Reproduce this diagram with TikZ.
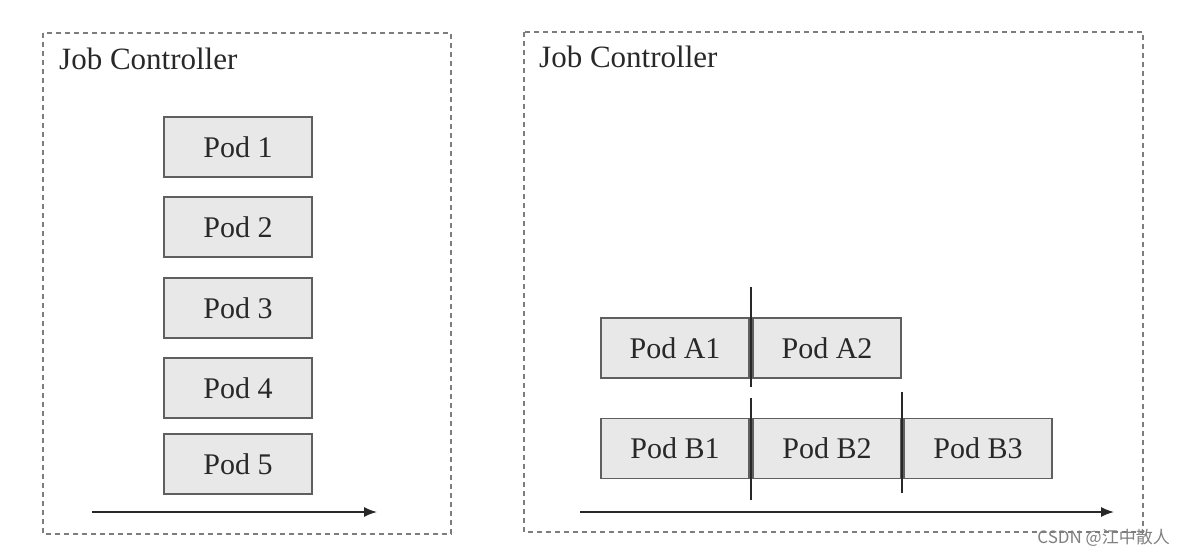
\documentclass[tikz,border=0pt]{standalone}
\usepackage{fontspec}
\setmainfont{Liberation Serif}
\newfontfamily\cjk{Noto Sans CJK SC}
\usetikzlibrary{positioning, arrows.meta, calc}
\definecolor{podfill}{RGB}{232,232,232}
\definecolor{podline}{RGB}{95,95,95}
\definecolor{dashgray}{RGB}{125,125,125}
\definecolor{inkgray}{RGB}{40,40,40}

\tikzset{
  pod/.style={draw=podline, fill=podfill, line width=1.2pt, minimum width=148pt,
    minimum height=60pt, inner sep=0pt, text=inkgray, font=\fontsize{30}{36}\selectfont},
  ctrlbox/.style={draw=dashgray, line width=1.2pt, dash pattern=on 5pt off 4pt},
  ctrltitle/.style={anchor=base west, inner sep=0pt, text=inkgray, font=\fontsize{31}{37}\selectfont},
  timeline/.style={draw=inkgray, line width=1.5pt, -{Latex[length=13pt,width=10pt]}},
  divider/.style={draw=inkgray, line width=1.3pt}
}

\begin{document}
\begin{tikzpicture}[x=1pt, y=-1pt]
  \useasboundingbox (0,0) rectangle (1186,554);
  % left: one pod after another
  \draw[ctrlbox] (43,33) rectangle (451,534);
  \node[ctrltitle] (ttl1) at (59,69) {Job Controller};
  \foreach \i/\y in {1/147, 2/227, 3/308, 4/388, 5/464}
    \node[pod] (p\i) at (238,\y) {Pod \i};
  \coordinate (t1s) at (92,512);
  \coordinate (t1e) at (377,512);
  \draw[timeline] (t1s) -- (t1e);

  % right: pods in parallel groups
  \draw[ctrlbox] (524,32) rectangle (1143,532);
  \node[ctrltitle] (ttl2) at (539,67) {Job Controller};
  \node[pod] (a1) at (675,348) {Pod A1};
  \node[pod] (a2) at (827,348) {Pod A2};
  \node[pod] (b1) at (675,448.5) {Pod B1};
  \node[pod] (b2) at (827,448.5) {Pod B2};
  \node[pod] (b3) at (978,448.5) {Pod B3};
  \draw[divider] (751,287) -- (751,387);
  \draw[divider] (751,398) -- (751,500);
  \draw[divider] (902,392) -- (902,493);
  \coordinate (t2s) at (580,512);
  \coordinate (t2e) at (1114,512);
  \draw[timeline] (t2s) -- (t2e);

  \node[anchor=base east, inner sep=0pt, text=gray, font=\cjk\fontsize{17}{17}\selectfont] (mark) at (1170,543) {CSDN @江中散人};
\end{tikzpicture}
\end{document}
